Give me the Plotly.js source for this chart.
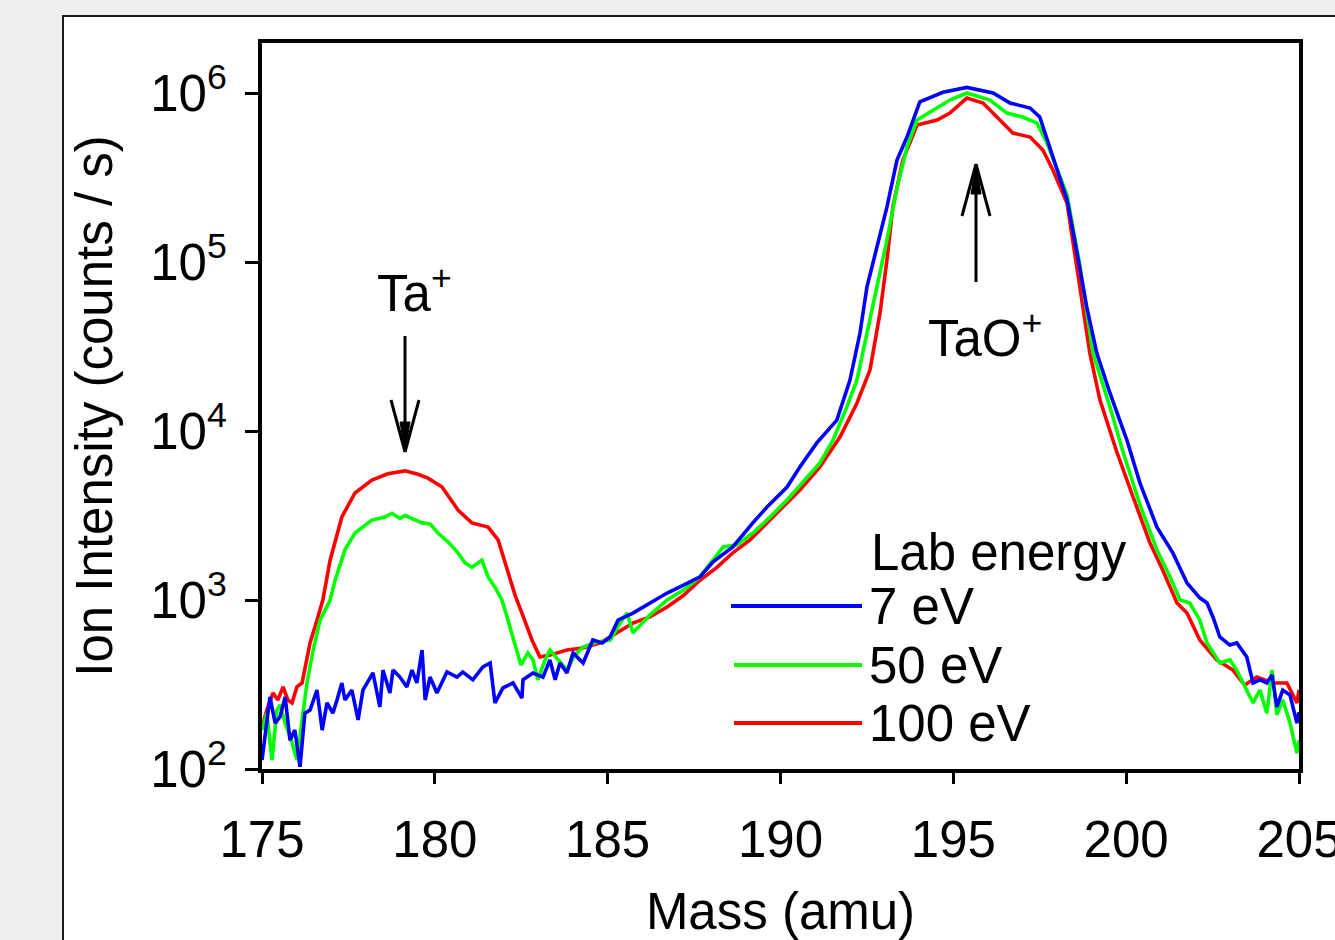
<!DOCTYPE html>
<html>
<head>
<meta charset="utf-8">
<script src="https://cdn.plot.ly/plotly-3.0.1.min.js"></script>
<style>html,body{margin:0;padding:0;background:#efefef;}#chart{width:1335px;height:940px;}</style>
</head>
<body>
<div id="chart"></div>
<script>
// ---- data (mass in amu, ion intensity in counts/s) ----
const massBlue = [175.00,175.23,175.38,175.52,175.67,175.81,175.95,176.10,176.24,176.39,176.59,176.74,176.88,177.05,177.17,177.31,177.40,177.60,177.78,177.92,178.21,178.41,178.50,178.70,178.79,178.99,179.19,179.34,179.48,179.63,179.72,179.86,180.06,180.35,180.64,180.81,181.10,181.39,181.60,181.74,181.97,182.26,182.52,182.55,182.84,183.13,183.33,183.48,183.62,183.82,184.00,184.29,184.57,184.84,185.07,185.30,
185.73,186.22,186.72,187.18,187.67,188.05,188.62,189.20,189.61,190.19,190.56,191.05,191.63,192.01,192.30,192.50,192.79,193.08,193.37,193.66,194.03,194.70,195.39,196.15,196.64,197.22,197.50,197.79,198.29,198.58,198.86,199.15,199.53,200.02,200.40,200.89,201.35,201.76,202.13,202.34,202.51,202.71,203.00,203.20,203.49,203.67,203.87,204.07,204.22,204.36,204.53,204.74,204.94,205.00];
const countsBlue = [113,267,187,203,267,148,170,103,214,223,293,170,246,214,256,323,256,293,195,293,370,233,385,282,385,350,306,385,323,506,256,350,282,375,350,375,337,402,424,246,302,323,263,337,370,350,442,337,424,370,486,424,580,557,604,760,
837,960,1100,1220,1370,1680,2060,2860,3550,4660,6130,8510,11600,20000,38000,71100,123000,212000,401000,549000,886000,1010000,1080000,1000000,873000,815000,721000,473000,233000,113000,54100,28900,16800,8840,4920,2700,1900,1260,1030,960,794,604,541,557,460,323,337,323,360,233,293,274,187,217];

const massGreen = [175.00,175.14,175.29,175.43,175.52,175.67,175.87,176.01,176.16,176.30,176.48,176.68,176.97,177.11,177.40,177.69,178.18,178.56,178.76,178.99,179.14,179.43,179.63,179.86,180.09,180.38,180.67,180.87,181.07,181.36,181.54,181.74,181.94,182.09,182.23,182.41,182.49,182.69,182.84,182.98,183.19,183.33,183.56,183.82,184.05,184.29,184.69,185.07,185.36,185.56,185.73,186.22,186.72,187.18,187.67,188.10,188.34,188.74,189.20,189.70,190.19,190.65,191.14,191.52,191.92,192.21,192.50,192.79,193.08,193.37,193.66,193.95,194.41,194.90,195.39,196.06,196.55,197.01,197.42,197.71,198.29,198.66,199.04,199.53,199.91,200.40,200.89,201.27,201.56,201.84,202.13,202.34,202.71,203.00,203.20,203.49,203.67,203.87,204.07,204.22,204.36,204.53,204.74,204.94,205.00];
const countsGreen = [170,214,113,223,239,187,143,113,195,323,506,760,1000,1300,1980,2490,2970,3100,3260,3040,3160,2970,2860,2820,2490,2210,1900,1660,1560,1720,1370,1190,1000,794,637,486,412,486,442,337,442,506,442,385,472,527,565,580,730,837,637,815,1000,1140,1370,1800,2060,2120,2490,3100,3910,4990,6470,8840,13900,20000,38000,71100,135000,274000,479000,692000,793000,909000,1000000,909000,761000,721000,664000,506000,249000,96000,28900,13900,7510,3650,1980,1370,1000,960,760,557,424,442,385,293,246,293,214,385,209,256,187,124,148];

const massRed = [175.00,175.14,175.32,175.46,175.61,175.75,175.87,176.01,176.16,176.39,176.59,176.76,176.97,177.31,177.69,178.18,178.64,179.14,179.51,179.80,180.21,180.67,181.07,181.54,181.83,182.12,182.32,182.52,182.81,183.04,183.33,183.82,184.29,184.78,185.27,185.73,186.22,186.72,187.18,187.67,188.16,188.62,189.12,189.61,190.07,190.56,191.14,191.72,192.21,192.59,192.88,193.08,193.25,193.54,193.95,194.53,194.90,195.39,195.86,196.35,196.72,197.22,197.59,197.88,198.29,198.66,198.95,199.24,199.73,200.20,200.69,201.06,201.47,201.76,202.13,202.42,202.62,203.09,203.43,203.78,204.24,204.65,204.94,205.00];
const countsRed = [177,223,282,256,306,256,246,306,323,557,760,1000,1720,3100,4300,5130,5580,5810,5550,5260,4660,3410,2860,2700,2270,1440,1070,837,580,460,472,506,520,557,637,730,794,909,1060,1310,1560,1900,2270,2860,3550,4480,6130,9210,14600,23000,50000,103000,212000,401000,646000,692000,761000,934000,873000,692000,580000,549000,460000,350000,223000,71100,28900,15300,7510,4070,2170,1500,960,837,580,493,442,385,314,350,323,323,246,293];

const seriesNames = ['7 eV','50 eV','100 eV'];
const seriesColors = ['#0000ff','#00ff00','#ff0000'];
const xTicks = [175,180,185,190,195,200,205];
const yTicks = [1e2,1e3,1e4,1e5,1e6];
const yTickText = ['10<sup>2</sup>','10<sup>3</sup>','10<sup>4</sup>','10<sup>5</sup>','10<sup>6</sup>'];

// ---- layout helpers (pixel -> paper fraction) ----
const W = 1335, H = 940, L = 262, R = 36, T = 43, B = 171;
const PW = W - L - R, PH = H - T - B;
const fx = px => (px - L) / PW;
const fy = py => (H - B - py) / PH;
const FONT = '"Liberation Sans", Arial, Helvetica, sans-serif';
const FS = 51;

const traces = [
  {x: massRed, y: countsRed, name: seriesNames[2], color: seriesColors[2]},
  {x: massGreen, y: countsGreen, name: seriesNames[1], color: seriesColors[1]},
  {x: massBlue, y: countsBlue, name: seriesNames[0], color: seriesColors[0]}
].map(s => ({x: s.x, y: s.y, name: s.name, type: 'scatter', mode: 'lines',
  line: {color: s.color, width: 3.6}, showlegend: false, hoverinfo: 'x+y+name'}));

const shapes = [];
// outer white frame
shapes.push({type: 'rect', xref: 'paper', yref: 'paper', x0: fx(63), x1: fx(1400), y0: fy(1000), y1: fy(16),
  fillcolor: '#ffffff', line: {color: '#1a1a1a', width: 2}, layer: 'below'});
// arrows
function arrow(xp, tailY, tipY) {
  const dir = tipY > tailY ? 1 : -1; // 1 = pointing down
  const lk = 'paper';
  shapes.push({type: 'line', xref: lk, yref: lk, x0: fx(xp), x1: fx(xp), y0: fy(tailY), y1: fy(tipY - dir * 4), line: {color: '#000', width: 3}});
  shapes.push({type: 'line', xref: lk, yref: lk, x0: fx(xp - 14), x1: fx(xp), y0: fy(tipY - dir * 52), y1: fy(tipY), line: {color: '#000', width: 3}});
  shapes.push({type: 'line', xref: lk, yref: lk, x0: fx(xp + 14), x1: fx(xp), y0: fy(tipY - dir * 52), y1: fy(tipY), line: {color: '#000', width: 3}});
  const p = 'M' + fx(xp) + ',' + fy(tipY) + ' L' + fx(xp - 5) + ',' + fy(tipY - dir * 30) + ' L' + fx(xp + 5) + ',' + fy(tipY - dir * 30) + ' Z';
  shapes.push({type: 'path', xref: lk, yref: lk, path: p, fillcolor: '#000', line: {color: '#000', width: 1}});
}
arrow(405, 336, 452);
arrow(976, 282, 164);

// manual legend lines
const legY = [606, 665, 723];
const legX0 = [731, 734, 734];
legY.forEach((y, i) => shapes.push({type: 'line', xref: 'paper', yref: 'paper', x0: fx(legX0[i]), x1: fx(862), y0: fy(y), y1: fy(y),
  line: {color: seriesColors[i], width: 3.8}}));

const annotations = [];
const txt = (text, xp, yp, xa, size) => annotations.push({text: text, xref: 'paper', yref: 'paper', x: fx(xp), y: fy(yp),
  xanchor: xa, yanchor: 'middle', showarrow: false, font: {family: FONT, size: size, color: '#000'}});
txt('Lab energy', 869, 552, 'left', FS);
seriesNames.forEach((n, i) => txt(n, 867, legY[i], 'left', FS));
txt('Ta<sup>+</sup>', 414, 290, 'center', FS);
txt('TaO<sup>+</sup>', 985, 335, 'center', FS);

const layout = {
  width: W, height: H,
  margin: {l: L, r: R, t: T, b: B, pad: 0},
  paper_bgcolor: '#efefef', plot_bgcolor: '#ffffff',
  font: {family: FONT, color: '#000'},
  xaxis: {range: [175, 205], tickmode: 'array', tickvals: xTicks, ticktext: xTicks.map(String),
    ticks: 'outside', ticklen: 11, tickwidth: 3, tickcolor: '#000', ticklabelstandoff: 12, ticklabeloverflow: 'allow',
    showline: true, linewidth: 4, linecolor: '#000', mirror: true, showgrid: false, zeroline: false,
    tickfont: {family: FONT, size: FS, color: '#000'},
    title: {text: 'Mass (amu)', font: {family: FONT, size: FS, color: '#000'}, standoff: 37}},
  yaxis: {type: 'log', range: [2, 6.296], tickmode: 'array', tickvals: yTicks, ticktext: yTickText,
    ticks: 'outside', ticklen: 13, tickwidth: 3, tickcolor: '#000', ticklabelstandoff: 8, ticklabeloverflow: 'allow',
    showline: true, linewidth: 4, linecolor: '#000', mirror: true, showgrid: false, zeroline: false,
    tickfont: {family: FONT, size: FS, color: '#000'},
    title: {text: 'Ion Intensity (counts / s)', font: {family: FONT, size: FS, color: '#000'}, standoff: 22}},
  shapes: shapes,
  annotations: annotations
};

Plotly.newPlot('chart', traces, layout, {staticPlot: true, displayModeBar: false});
</script>
</body>
</html>
